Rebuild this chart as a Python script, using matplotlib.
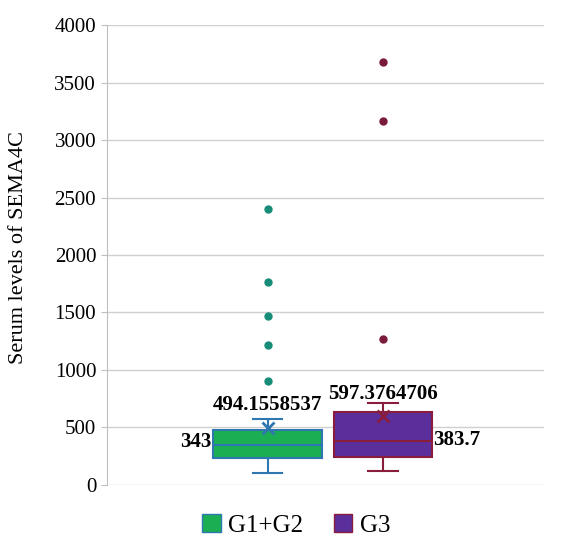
import matplotlib.pyplot as plt
import numpy as np

plt.rcParams['font.family'] = 'Liberation Serif'

# data
groups = ["G1+G2", "G3"]
medians = [343, 383.7]
means = [494.1558537, 597.3764706]
q1 = [232, 243]
q3 = [480, 635]
whisker_low = [104, 122]
whisker_high = [574, 713]
outliers_g12 = [2400, 1765, 1470, 1218, 905]
outliers_g3 = [3680, 3167, 1270]

face_colors = ["#1cae52", "#5a2f9c"]
edge_colors = ["#2f77b0", "#8a1d3c"]
flier_colors = ["#178c78", "#7a1a3c"]

positions = [0.368, 0.632]

fig = plt.figure(figsize=(5.61, 5.46), dpi=100)
ax = fig.add_axes([0.19, 0.112, 0.78, 0.842])

fliers = [outliers_g12, outliers_g3]
for i in range(2):
    stats = [{"med": medians[i], "q1": q1[i], "q3": q3[i],
              "whislo": whisker_low[i], "whishi": whisker_high[i],
              "mean": means[i], "fliers": fliers[i]}]
    ec = edge_colors[i]
    ax.bxp(stats, positions=[positions[i]], widths=[0.25, 0.225][i], patch_artist=True,
           showmeans=True, zorder=3,
           boxprops=dict(facecolor=face_colors[i], edgecolor=ec, linewidth=1.5),
           medianprops=dict(color=ec, linewidth=1.5),
           whiskerprops=dict(color=ec, linewidth=1.5),
           capprops=dict(color=ec, linewidth=1.5),
           capwidths=0.068,
           meanprops=dict(marker='x', markeredgecolor=ec, markersize=9, markeredgewidth=2),
           flierprops=dict(marker='o', markerfacecolor=flier_colors[i],
                           markeredgecolor=flier_colors[i], markersize=5))

# data labels
lbl = dict(fontsize=15, fontweight='bold', zorder=5)
ax.text(positions[0], 610, "%.7f" % means[0], ha='center', va='bottom', **lbl)
ax.text(positions[0] - 0.128, 370, "%g" % medians[0], ha='right', va='center', **lbl)
ax.text(positions[1], 700, "%.7f" % means[1], ha='center', va='bottom', **lbl)
ax.text(positions[1] + 0.115, 390, "%g" % medians[1], ha='left', va='center', **lbl)

ax.set_xlim(0, 1)
ax.set_ylim(0, 4000)
ax.set_yticks(np.arange(0, 4001, 500))
ax.set_xticks([])
ax.tick_params(axis='y', labelsize=15, length=4, color='#bfbfbf')
ax.yaxis.grid(True, color='#d0d0d0', linewidth=1)
ax.set_axisbelow(True)
for s in ['top', 'right', 'bottom']:
    ax.spines[s].set_visible(False)
ax.spines['left'].set_color('#bfbfbf')
ax.set_ylabel("Serum levels of SEMA4C", fontsize=16)
ax.yaxis.set_label_coords(-0.18, 0.517)

handles = [plt.Rectangle((0, 0), 1, 1, facecolor=face_colors[i], edgecolor=edge_colors[i])
           for i in range(2)]
fig.legend(handles, groups, loc='center', bbox_to_anchor=(0.528, 0.038), ncol=2,
           frameon=False, fontsize=18, handlelength=0.75, handleheight=0.75,
           handletextpad=0.3, columnspacing=1.2)

fig.savefig("out.png", dpi=100)
